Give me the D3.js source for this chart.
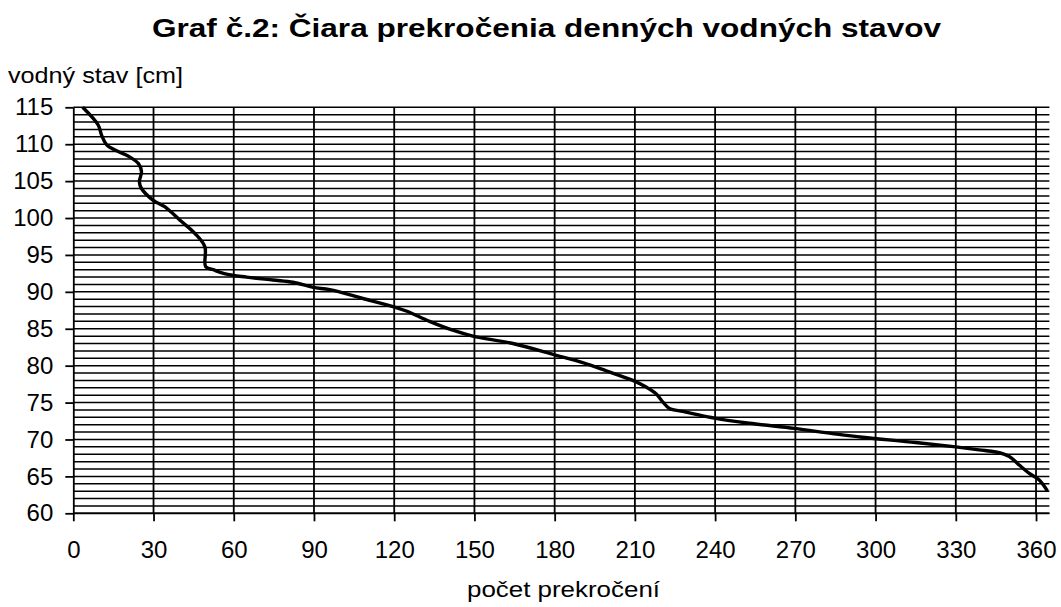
<!DOCTYPE html>
<html>
<head>
<meta charset="utf-8">
<script src="https://cdn.jsdelivr.net/npm/d3@7"></script>
<style>
  html, body { margin: 0; padding: 0; background: #fff; }
  svg { display: block; font-family: Arial, "Liberation Sans", sans-serif; }
</style>
</head>
<body>
<svg id="chart" width="1061" height="607"></svg>
<script>
// počet prekročení (days exceeded) — x values
const exceedanceDays = [3.5, 9.3, 10.6, 12.5, 16.2, 20.5, 24.3, 25.5, 24.7, 25.5, 29.9, 34.3, 39.9, 45.5, 49.2, 49.5, 52.3, 57.3, 64.8, 74.7, 82.2, 89.7, 95.9, 108.3, 119.5, 124.5, 133.2, 141.9, 149.4, 164.4, 180.6, 190.5, 199.3, 209.2, 214.2, 217.9, 220.4, 222.9, 227.9, 232.9, 239.7, 252.8, 269.6, 283.9, 295.1, 315.0, 330.0, 338.7, 345.0, 350.0, 353.8, 357.5, 361.2, 364.3];
// vodný stav [cm] — y values
const waterLevels = [115, 112.6, 111.2, 109.9, 109.1, 108.4, 107.4, 106.3, 104.9, 104.0, 102.4, 101.5, 99.7, 97.9, 96.1, 93.4, 93.0, 92.4, 92.0, 91.6, 91.3, 90.6, 90.3, 89.1, 88.0, 87.4, 86.0, 84.8, 84.0, 83.0, 81.4, 80.4, 79.3, 78.0, 77.1, 76.2, 75.1, 74.2, 73.8, 73.4, 72.9, 72.2, 71.5, 70.8, 70.3, 69.6, 69.0, 68.6, 68.3, 67.7, 66.5, 65.4, 64.5, 63.0];

const xTicks = [0, 30, 60, 90, 120, 150, 180, 210, 240, 270, 300, 330, 360];
const yTicks = [60, 65, 70, 75, 80, 85, 90, 95, 100, 105, 110, 115];
const yGrid = d3.range(60, 116, 1);

const titleText = "Graf č.2: Čiara prekročenia denných vodných stavov";
const xTitle = "počet prekročení";
const yTitle = "vodný stav [cm]";

const svg = d3.select("#chart");
const mLeft = 73.3, mRight = 1049.4, mTop = 107.3, mBottom = 513.3;

const x = d3.scaleLinear().domain([0, 365]).range([mLeft, mRight]);
const y = d3.scaleLinear().domain([60, 115]).range([mBottom, mTop]);

// horizontal grid (every 1 cm)
svg.append("g").selectAll("line").data(yGrid).join("line")
  .attr("x1", mLeft).attr("x2", mRight)
  .attr("y1", d => y(d)).attr("y2", d => y(d))
  .attr("stroke", "#000").attr("stroke-width", 1.5);

// vertical grid
svg.append("g").selectAll("line").data(xTicks.filter(d => d > 0)).join("line")
  .attr("x1", d => x(d)).attr("x2", d => x(d))
  .attr("y1", mTop).attr("y2", mBottom)
  .attr("stroke", "#000").attr("stroke-width", 1.8);

// axes
const xAxis = d3.axisBottom(x).tickValues(xTicks).tickSize(8).tickPadding(20).tickSizeOuter(0);
const gx = svg.append("g").attr("transform", `translate(0,${mBottom})`).call(xAxis);
gx.select(".domain").attr("stroke-width", 1.8).attr("d", `M${mLeft},0H${mRight}`);
gx.selectAll(".tick line").attr("stroke-width", 1.8);
gx.selectAll(".tick text").attr("font-size", 24).attr("fill", "#000")
  .attr("font-family", "Arial, 'Liberation Sans', sans-serif");

const yAxis = d3.axisLeft(y).tickValues(yTicks).tickSize(8).tickPadding(12).tickSizeOuter(0);
const gy = svg.append("g").attr("transform", `translate(${mLeft},0)`).call(yAxis);
gy.select(".domain").attr("stroke-width", 1.8);
gy.selectAll(".tick line").attr("stroke-width", 1.8);
gy.selectAll(".tick text").attr("font-size", 24).attr("fill", "#000")
  .attr("font-family", "Arial, 'Liberation Sans', sans-serif");

// curve
const pts = exceedanceDays.map((d, i) => [d, waterLevels[i]]);
const line = d3.line().x(d => x(d[0])).y(d => y(d[1])).curve(d3.curveCatmullRom.alpha(0.5));
svg.append("path").datum(pts).attr("d", line)
  .attr("fill", "none").attr("stroke", "#000").attr("stroke-width", 3.4)
  .attr("stroke-linejoin", "round");

// titles
svg.append("text").attr("x", 152).attr("y", 37)
  .attr("font-size", 25).attr("font-weight", "bold")
  .attr("textLength", 789).attr("lengthAdjust", "spacingAndGlyphs").text(titleText);
svg.append("text").attr("x", 467).attr("y", 597)
  .attr("font-size", 22)
  .attr("textLength", 193).attr("lengthAdjust", "spacingAndGlyphs").text(xTitle);
svg.append("text").attr("x", 8).attr("y", 83)
  .attr("font-size", 22)
  .attr("textLength", 175).attr("lengthAdjust", "spacingAndGlyphs").text(yTitle);
</script>
</body>
</html>
